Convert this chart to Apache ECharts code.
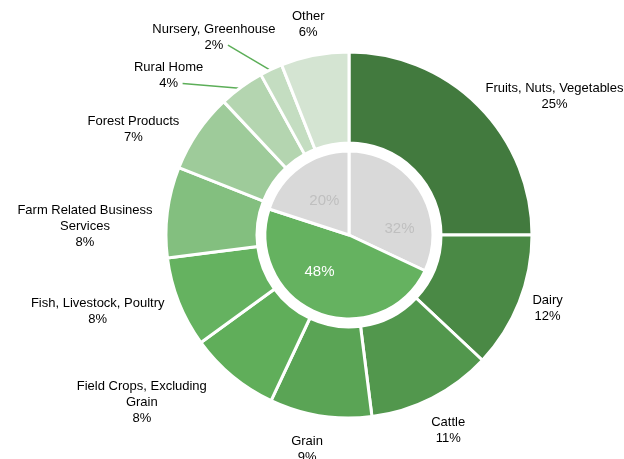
<!DOCTYPE html>
<html>
<head>
<meta charset="utf-8">
<script src="https://cdn.jsdelivr.net/npm/echarts@6/dist/echarts.min.js"></script>
<style>
  html, body { margin: 0; padding: 0; background: #fff; }
  #chart { width: 624px; height: 459px; }
</style>
</head>
<body>
<div id="chart"></div>
<script>
const categories = [
  'Fruits, Nuts, Vegetables', 'Dairy', 'Cattle', 'Grain',
  'Field Crops, Excluding\nGrain', 'Fish, Livestock, Poultry',
  'Farm Related Business\nServices', 'Forest Products', 'Rural Home',
  'Nursery, Greenhouse', 'Other'
]
const shares = [25, 12, 11, 9, 8, 8, 8, 7, 4, 2, 6]
const outerColors = [
  '#427a3e', '#4a8945', '#52974d', '#5aa455', '#60ae5a', '#65b260',
  '#83bf7f', '#9ecb9a', '#b4d5b0', '#c4ddc1', '#d4e4d2'
]
const innerShares = [32, 48, 20]
const innerColors = ['#d9d9d9', '#65b260', '#d9d9d9']
const innerLabelColors = ['#bfbfbf', '#ffffff', '#bfbfbf']

const cx = 349
const cy = 235
const outerR = 183
const innerR = 84
const labelR = 193

// small hand tweaks so labels sit where the original put them
const labelNudge = [
  [0, 14], [4, -6], [0, 7], [-8, 8], [-22, -5], [-5, -3],
  [-5, 20], [-10, 16], [0, 0], [0, 0], [0, -5]
]
// the two thin slices get a leader line: offset of the line end from the slice edge
const leader = { 'Rural Home': [-60, -5], 'Nursery, Greenhouse': [-44, -26] }
const innerNudge = [[15, 16], [-14, -2], [0, 0]]

function midAngles(values) {
  const total = values.reduce((a, b) => a + b, 0)
  const out = []
  let acc = 0
  values.forEach(v => {
    out.push(((acc + v / 2) / total) * Math.PI * 2)
    acc += v
  })
  return out
}
const outerMid = midAngles(shares)
const innerMid = midAngles(innerShares)

const clamp = t => Math.max(-1, Math.min(1, t * 1.5))

const chart = echarts.init(document.getElementById('chart'), null, { renderer: 'canvas' })

chart.setOption({
  animation: false,
  textStyle: { fontFamily: 'Liberation Sans, Arial, sans-serif' },
  series: [
    {
      type: 'pie',
      center: [cx, cy],
      radius: [0, innerR],
      startAngle: 90,
      clockwise: true,
      label: {
        position: 'inner',
        fontSize: 15,
        formatter: '{c}%'
      },
      labelLine: { show: false },
      labelLayout: params => {
        const i = params.dataIndex
        const a = innerMid[i]
        return {
          x: cx + Math.sin(a) * innerR * 0.5 + innerNudge[i][0],
          y: cy - Math.cos(a) * innerR * 0.5 + innerNudge[i][1],
          align: 'center',
          verticalAlign: 'middle'
        }
      },
      itemStyle: { borderColor: '#fff', borderWidth: 3 },
      emphasis: { disabled: true },
      data: innerShares.map((v, i) => ({
        value: v,
        itemStyle: { color: innerColors[i] },
        label: { color: innerLabelColors[i] }
      }))
    },
    {
      type: 'pie',
      center: [cx, cy],
      radius: [92, outerR],
      startAngle: 90,
      clockwise: true,
      itemStyle: { borderColor: '#fff', borderWidth: 3 },
      emphasis: { disabled: true },
      label: {
        show: true,
        position: 'outside',
        color: '#000',
        fontSize: 13,
        lineHeight: 16,
        align: 'center',
        overflow: 'none',
        formatter: p => p.name + '\n' + p.value + '%'
      },
      labelLine: { show: false },
      labelLayout: params => {
        const i = params.dataIndex
        const a = outerMid[i]
        const dx = Math.sin(a)
        const dy = -Math.cos(a)
        const w = params.labelRect.width
        const h = params.labelRect.height
        const lead = leader[categories[i]]
        if (lead) {
          const ex = cx + dx * (outerR - 2)
          const ey = cy + dy * (outerR - 2)
          const lx = ex + lead[0]
          const ly = ey + lead[1]
          return {
            x: lx - 14,
            y: ly - 8,
            align: 'center',
            verticalAlign: 'middle',
            labelLinePoints: [[ex, ey], [lx, ly], [lx, ly]]
          }
        }
        return {
          x: cx + dx * labelR + clamp(dx) * w / 2 + labelNudge[i][0],
          y: cy + dy * labelR + clamp(dy) * h / 2 + labelNudge[i][1],
          align: 'center',
          verticalAlign: 'middle'
        }
      },
      data: shares.map((v, i) => ({
        name: categories[i],
        value: v,
        itemStyle: { color: outerColors[i] },
        labelLine: leader[categories[i]]
          ? { show: true, lineStyle: { color: '#5cae58', width: 1.5 } }
          : { show: false }
      }))
    }
  ]
})
</script>
</body>
</html>
